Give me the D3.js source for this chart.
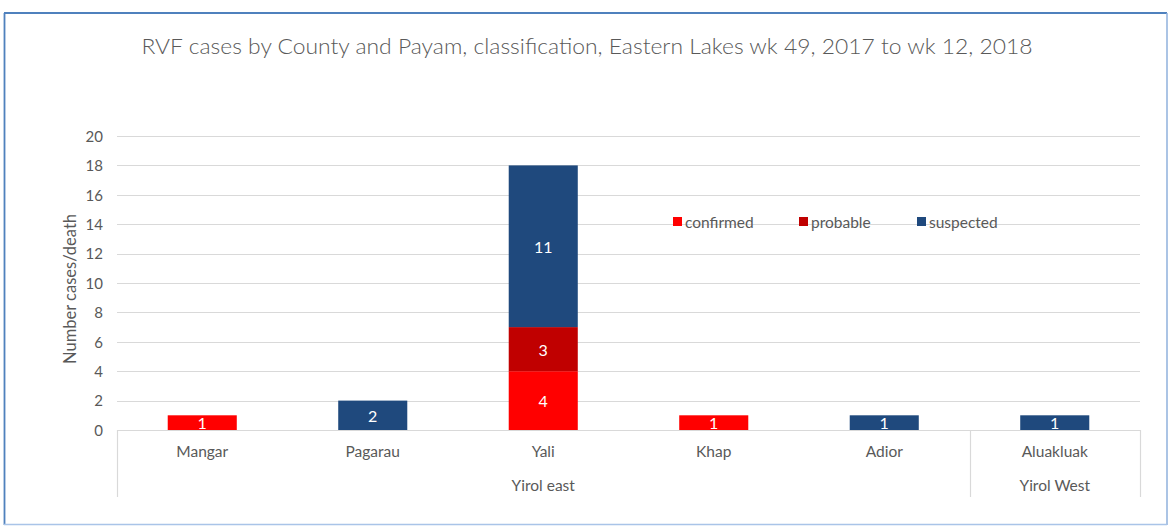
<!DOCTYPE html>
<html><head><meta charset="utf-8">
<script src="https://cdn.jsdelivr.net/npm/d3@7"></script>
<style>
body{margin:0;background:#fff;}
text{font-family:"Lato","Open Sans",sans-serif;fill:#595959;}
</style></head>
<body><svg id="c" width="1172" height="527"></svg>
<script>
const title = "RVF cases by County and Payam, classification,  Eastern Lakes wk 49, 2017 to wk 12, 2018";
const payams = ["Mangar","Pagarau","Yali","Khap","Adior","Aluakluak"];
const counties = ["Yirol east","Yirol east","Yirol east","Yirol east","Yirol east","Yirol West"];
const seriesNames = ["confirmed","probable","suspected"];
const confirmed = [1,0,4,1,0,0];
const probable  = [0,0,3,0,0,0];
const suspected = [0,2,11,0,1,1];
const yTicks = [0,2,4,6,8,10,12,14,16,18,20];
const colors = ["#ff0000","#c00000","#1f497d"];

const svg = d3.select("#c");
// frame
svg.append("line").attr("x1",4).attr("x2",1167).attr("y1",13).attr("y2",13).attr("stroke","#4f81bd").attr("stroke-width",1.8);
svg.append("line").attr("x1",4.5).attr("x2",4.5).attr("y1",13).attr("y2",525).attr("stroke","#4f81bd").attr("stroke-width",1.8);
svg.append("line").attr("x1",1167).attr("x2",1167).attr("y1",13).attr("y2",525).attr("stroke","#8fb0dc").attr("stroke-width",1.5);
svg.append("line").attr("x1",4).attr("x2",1167).attr("y1",524.5).attr("y2",524.5).attr("stroke","#a9c4e8").attr("stroke-width",1.5);

svg.append("text").attr("x",587).attr("y",54).attr("text-anchor","middle")
  .style("font-size","21px").style("font-weight","300").attr("textLength",891).attr("lengthAdjust","spacingAndGlyphs").text(title);

const x = d3.scaleBand().domain(payams).range([117,1140]).paddingInner(0.595).paddingOuter(0.2975);
const y = d3.scaleLinear().domain([0,20]).range([430,136]);

// gridlines
svg.append("g").selectAll("line").data(yTicks.filter(d=>d>0)).join("line")
  .attr("x1",117).attr("x2",1140).attr("y1",d=>Math.round(y(d))+0.5).attr("y2",d=>Math.round(y(d))+0.5)
  .attr("stroke","#d9d9d9").attr("stroke-width",1.2);

// y axis labels
const ya = svg.append("g").attr("transform","translate(103,0)")
  .call(d3.axisLeft(y).tickValues(yTicks).tickSize(0).tickPadding(0));
ya.select(".domain").remove();
ya.selectAll("text").style("font-size","15px").style("font-family","Lato").attr("fill","#595959").attr("dy","0.35em");

svg.append("text").attr("transform","translate(76,289) rotate(-90)").attr("text-anchor","middle")
  .style("font-size","16.5px").text("Number cases/death");

// stacked bars
const rows = payams.map((p,i)=>({p, confirmed:confirmed[i], probable:probable[i], suspected:suspected[i]}));
const stack = d3.stack().keys(seriesNames)(rows);
stack.forEach((s,si)=>{
  const g = svg.append("g");
  g.selectAll("rect").data(s.filter(d=>d[1]-d[0]>0)).join("rect")
    .attr("x",d=>x(d.data.p)).attr("width",x.bandwidth())
    .attr("y",d=>y(d[1])).attr("height",d=>y(d[0])-y(d[1])).attr("fill",colors[si]);
  g.selectAll("text").data(s.filter(d=>d[1]-d[0]>0)).join("text")
    .attr("x",d=>x(d.data.p)+x.bandwidth()/2).attr("y",d=>(y(d[0])+y(d[1]))/2+1)
    .attr("dy","0.36em").attr("text-anchor","middle").style("font-size","16px")
    .style("fill","#fff").text(d=>d[1]-d[0]);
});

// axis baseline and separators
svg.append("line").attr("x1",117).attr("x2",1140).attr("y1",430.5).attr("y2",430.5).attr("stroke","#d9d9d9").attr("stroke-width",1.2);
const seps = [payams[0], payams[5]].map(p=>x(p)-x.step()*x.paddingInner()/2);
seps.push(1140);
svg.append("g").selectAll("line").data(seps).join("line")
  .attr("x1",d=>Math.round(d)+0.5).attr("x2",d=>Math.round(d)+0.5).attr("y1",430).attr("y2",497)
  .attr("stroke","#d9d9d9").attr("stroke-width",1.2);

// category labels
svg.append("g").selectAll("text").data(payams).join("text")
  .attr("x",d=>x(d)+x.bandwidth()/2).attr("y",457).attr("text-anchor","middle")
  .style("font-size","15.5px").text(d=>d);
// county labels
const groups = d3.groups(payams.map((p,i)=>({p,c:counties[i]})), d=>d.c);
svg.append("g").selectAll("text").data(groups).join("text")
  .attr("x",d=>{const a=x(d[1][0].p), b=x(d[1][d[1].length-1].p)+x.bandwidth(); return (a+b)/2;})
  .attr("y",491).attr("text-anchor","middle").style("font-size","15.5px").text(d=>d[0]);

// legend
const lx = [673,799,917];
const lg = svg.append("g").selectAll("g").data(seriesNames).join("g")
  .attr("transform",(d,i)=>`translate(${lx[i]},217)`);
lg.append("rect").attr("width",9).attr("height",9).attr("fill",(d,i)=>colors[i]);
lg.append("text").attr("x",12).attr("y",10.5).style("font-size","15.5px").text(d=>d);
</script></body></html>
